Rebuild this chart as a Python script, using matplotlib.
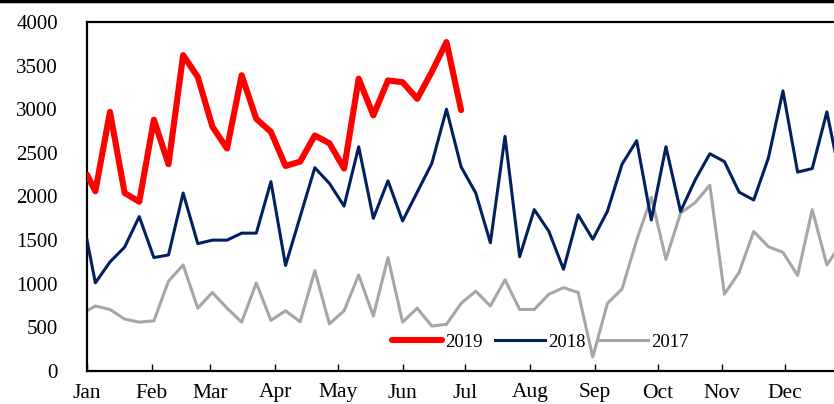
import matplotlib
matplotlib.use("Agg")
import matplotlib.pyplot as plt
import matplotlib.dates as mdates
from matplotlib.lines import Line2D
import pandas as pd

# weekly series, first point on Jan 1 then every Saturday-ish from Jan 5
v2019 = [2250, 2060, 2970, 2040, 1940, 2880, 2370, 3620, 3370, 2800, 2550, 3390,
         2890, 2740, 2350, 2400, 2700, 2610, 2320, 3350, 2930, 3330, 3310, 3120,
         3430, 3770, 2990]
v2018 = [1500, 1010, 1250, 1420, 1770, 1300, 1330, 2040, 1460, 1500, 1500, 1580,
         1580, 2170, 1210, 1770, 2330, 2150, 1890, 2570, 1750, 2180, 1720, 2050,
         2380, 3000, 2340, 2040, 1470, 2690, 1310, 1850, 1600, 1165, 1790, 1510,
         1830, 2370, 2640, 1730, 2570, 1830, 2190, 2490, 2400, 2050, 1960, 2440,
         3210, 2280, 2320, 2970, 2150]
v2017 = [690, 745, 705, 595, 560, 575, 1030, 1215, 720, 900, 720, 560,
         1010, 580, 690, 565, 1150, 540, 690, 1100, 630, 1300, 560, 720,
         515, 535, 775, 915, 745, 1045, 705, 705, 880, 955, 900, 160,
         775, 940, 1500, 1990, 1280, 1810, 1930, 2130, 880, 1130, 1600, 1425,
         1360, 1095, 1850, 1215, 1470]
month_labels = ['Jan', 'Feb', 'Mar', 'Apr', 'May', 'Jun', 'Jul', 'Aug',
                'Sep', 'Oct', 'Nov', 'Dec']


def week_dates(n):
    # Jan 1 plus weekly dates starting Jan 5 (common reference year)
    rest = pd.date_range('2018-01-05', periods=n - 1, freq='7D')
    return [pd.Timestamp('2018-01-01')] + list(rest)


plt.rcParams['font.family'] = ['Liberation Serif', 'DejaVu Serif']

fig = plt.figure(figsize=(8.34, 4.04), dpi=100)
ax = fig.add_axes([87 / 834, 33 / 404, 365 * 2.09 / 834, 349 / 404])

ax.plot(week_dates(len(v2019)), v2019, color='#FF0000', lw=4.4,
        solid_capstyle='round', label='2019', zorder=4)
ax.plot(week_dates(len(v2018)), v2018, color='#002060', lw=2.2,
        label='2018', zorder=3)
ax.plot(week_dates(len(v2017)), v2017, color='#A6A6A6', lw=2.2,
        label='2017', zorder=2)

ax.set_xlim(pd.Timestamp('2018-01-01'), pd.Timestamp('2019-01-01'))
ax.set_ylim(0, 4000)
ax.set_yticks(range(0, 4001, 500))
ax.xaxis.set_major_locator(mdates.MonthLocator())
ax.set_xticklabels(month_labels)

ax.tick_params(axis='x', direction='in', length=5, width=1, pad=9,
               labelsize=15.5)
ax.tick_params(axis='y', length=0, pad=21, labelsize=15)
for s in ax.spines.values():
    s.set_linewidth(1.6)

ax.legend(loc='center', bbox_to_anchor=(0.594, 0.083), ncol=3,
          frameon=False, fontsize=13.5, handlelength=2.7,
          handletextpad=0.15, columnspacing=0.65)

# thin frame line along the top of the picture
fig.add_artist(Line2D([0, 1], [0.997, 0.997], color='black', lw=2.5,
                      transform=fig.transFigure))

fig.savefig('out.png', dpi=100)
